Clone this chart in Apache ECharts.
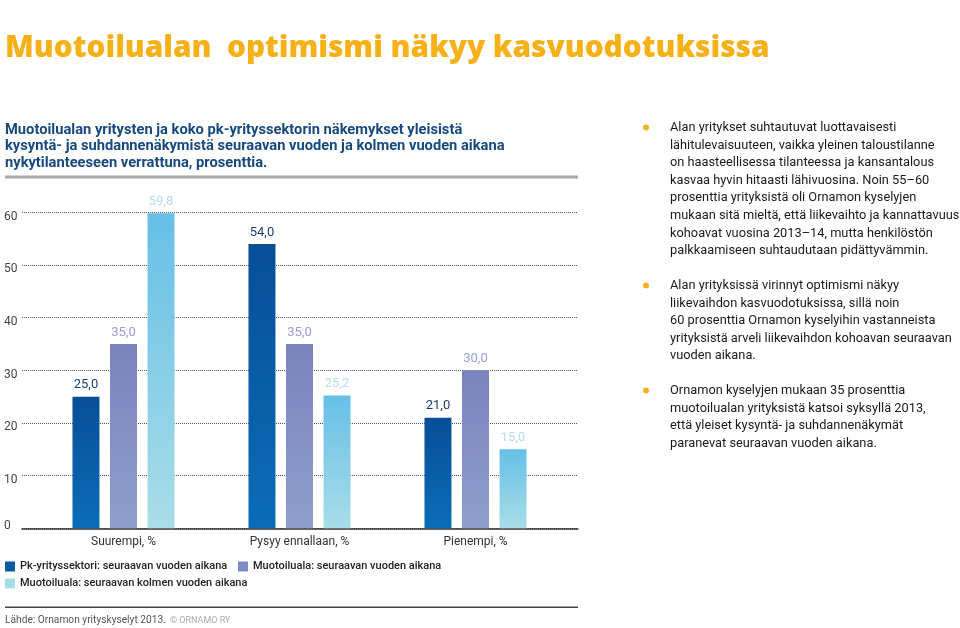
<!DOCTYPE html>
<html><head><meta charset="utf-8">
<script src="https://cdn.jsdelivr.net/npm/echarts@6/dist/echarts.min.js"></script>
<style>html,body{margin:0;padding:0;background:#fff}#c{width:960px;height:628px}</style>
</head><body><div id="c"></div>
<script>
const categories = ['Suurempi, %', 'Pysyy ennallaan, %', 'Pienempi, %'];
const seriesNames = ['Pk-yrityssektori: seuraavan vuoden aikana', 'Muotoiluala: seuraavan vuoden aikana', 'Muotoiluala: seuraavan kolmen vuoden aikana'];
const pkNext = [25.0, 54.0, 21.0];
const designNext = [35.0, 35.0, 30.0];
const designThree = [59.8, 25.2, 15.0];
const yMin = 0, yMax = 60, yStep = 10;

const titleText = 'Muotoilualan  optimismi näkyy kasvuodotuksissa';
const subtitleLines = ['Muotoilualan yritysten ja koko pk-yrityssektorin näkemykset yleisistä',
  'kysyntä- ja suhdannenäkymistä seuraavan vuoden ja kolmen vuoden aikana',
  'nykytilanteeseen verrattuna, prosenttia.'];
const para1 = ['Alan yritykset suhtautuvat luottavaisesti', 'lähitulevaisuuteen, vaikka yleinen taloustilanne',
  'on haasteellisessa tilanteessa ja kansantalous', 'kasvaa hyvin hitaasti lähivuosina. Noin 55–60',
  'prosenttia yrityksistä oli Ornamon kyselyjen', 'mukaan sitä mieltä, että liikevaihto ja kannattavuus',
  'kohoavat vuosina 2013–14, mutta henkilöstön', 'palkkaamiseen suhtaudutaan pidättyvämmin.'];
const para2 = ['Alan yrityksissä virinnyt optimismi näkyy', 'liikevaihdon kasvuodotuksissa, sillä noin',
  '60 prosenttia Ornamon kyselyihin vastanneista', 'yrityksistä arveli liikevaihdon kohoavan seuraavan', 'vuoden aikana.'];
const para3 = ['Ornamon kyselyjen mukaan 35 prosenttia', 'muotoilualan yrityksistä katsoi syksyllä 2013,',
  'että yleiset kysyntä- ja suhdannenäkymät', 'paranevat seuraavan vuoden aikana.'];
const sourceText = 'Lähde: Ornamon yrityskyselyt 2013.';
const copyText = '© ORNAMO RY';

const F = 'Roboto, "Liberation Sans", sans-serif';
const fmt = v => v.toFixed(1).replace('.', ',');
function grad(a, b) {
  return new echarts.graphic.LinearGradient(0, 0, 0, 1, [{offset: 0, color: a}, {offset: 1, color: b}]);
}
const barColors = [['#084e98', '#0b6db6'], ['#7b83be', '#8e9ecd'], ['#66bfe6', '#a9dde8']];
const labelColors = ['#1d3f6e', '#97a0cc', '#b6dde8'];
const legendColors = ['#0a5aa6', '#7f8bc5', '#a8dcea'];
const seriesData = [pkNext, designNext, designThree];
const legendPos = [[5, 561], [238, 561], [5, 578]];

const chart = echarts.init(document.getElementById('c'), null, {renderer: 'canvas'});
const paraStyle = {font: '12.8px ' + F, fill: '#1a1a1a', lineHeight: 17.6, textVerticalAlign: 'top'};
function para(lines, y) {
  return [
    {type: 'circle', shape: {cx: 646, cy: y + 8.5, r: 3}, style: {fill: '#f0b323'}},
    {type: 'text', left: 670, top: y, style: Object.assign({text: lines.join('\n')}, paraStyle)}
  ];
}

chart.setOption({
  animation: false,
  grid: [
    {left: 22, right: 382, top: 212.3, bottom: 99.7},
    {left: 35.5, right: 396.5, top: 212.3, bottom: 99.7}
  ],
  xAxis: [
    {gridIndex: 0, type: 'value', min: 0, max: 1, show: true, axisLine: {show: true, lineStyle: {color: '#333', width: 1.5}},
      axisTick: {show: false}, axisLabel: {show: false}, splitLine: {show: false}},
    {gridIndex: 1, type: 'category', data: categories, axisLine: {show: false}, axisTick: {show: false},
      axisLabel: {margin: 8, fontSize: 12, color: '#333', fontFamily: F}}
  ],
  yAxis: [
    {gridIndex: 0, type: 'value', min: yMin, max: yMax, interval: yStep, axisLine: {show: false}, axisTick: {show: false},
      axisLabel: {align: 'left', margin: 18, fontSize: 12, color: '#444', fontFamily: F,
        formatter: v => v === 0 ? '{z|0}' : '{n|' + v + '}',
        rich: {n: {fontSize: 12, color: '#444', fontFamily: F, padding: [9, 0, 0, 0]},
               z: {fontSize: 12, color: '#444', fontFamily: F, padding: [0, 0, 4, 0]}}},
      splitLine: {show: true, lineStyle: {type: 'dotted', color: '#555', width: 1}}},
    {gridIndex: 1, type: 'value', min: yMin, max: yMax, show: false}
  ],
  legend: seriesNames.map((n, i) => ({
    data: [{name: n, itemStyle: {color: legendColors[i]}}],
    left: legendPos[i][0], top: legendPos[i][1], icon: 'rect', itemWidth: 10, itemHeight: 10, selectedMode: false,
    padding: 0,
    textStyle: {fontSize: 11, fontWeight: 500, color: '#222', fontFamily: F}
  })),
  series: seriesData.map((d, i) => ({
    name: seriesNames[i], type: 'bar', xAxisIndex: 1, yAxisIndex: 1, data: d,
    barWidth: 27, barGap: '39%',
    itemStyle: {color: grad(barColors[i][0], barColors[i][1])},
    label: {show: true, position: 'top', distance: 5, formatter: p => fmt(p.value), fontSize: 13, color: labelColors[i], fontFamily: F}
  })),
  graphic: [
    {type: 'text', left: 5, top: 34, style: {text: titleText, font: '800 29.8px "Open Sans", sans-serif', fill: '#f6b119'}},
    {type: 'text', left: 5, top: 122, style: {text: subtitleLines.join('\n'), font: 'bold 14.7px ' + F, fill: '#17497f', lineHeight: 16.5}},
    {type: 'rect', shape: {x: 5, y: 175.5, width: 573, height: 3}, style: {fill: '#a8a8a8'}},
    {type: 'rect', shape: {x: 5, y: 606.5, width: 573, height: 1.5}, style: {fill: '#444'}},
    {type: 'text', left: 5, top: 615, style: {text: sourceText, font: '10.2px ' + F, fill: '#555'}},
    {type: 'text', left: 170, top: 616, style: {text: copyText, font: '9px ' + F, fill: '#aaa'}}
  ].concat(para(para1, 119), para(para2, 277), para(para3, 382))
});
</script></body></html>
